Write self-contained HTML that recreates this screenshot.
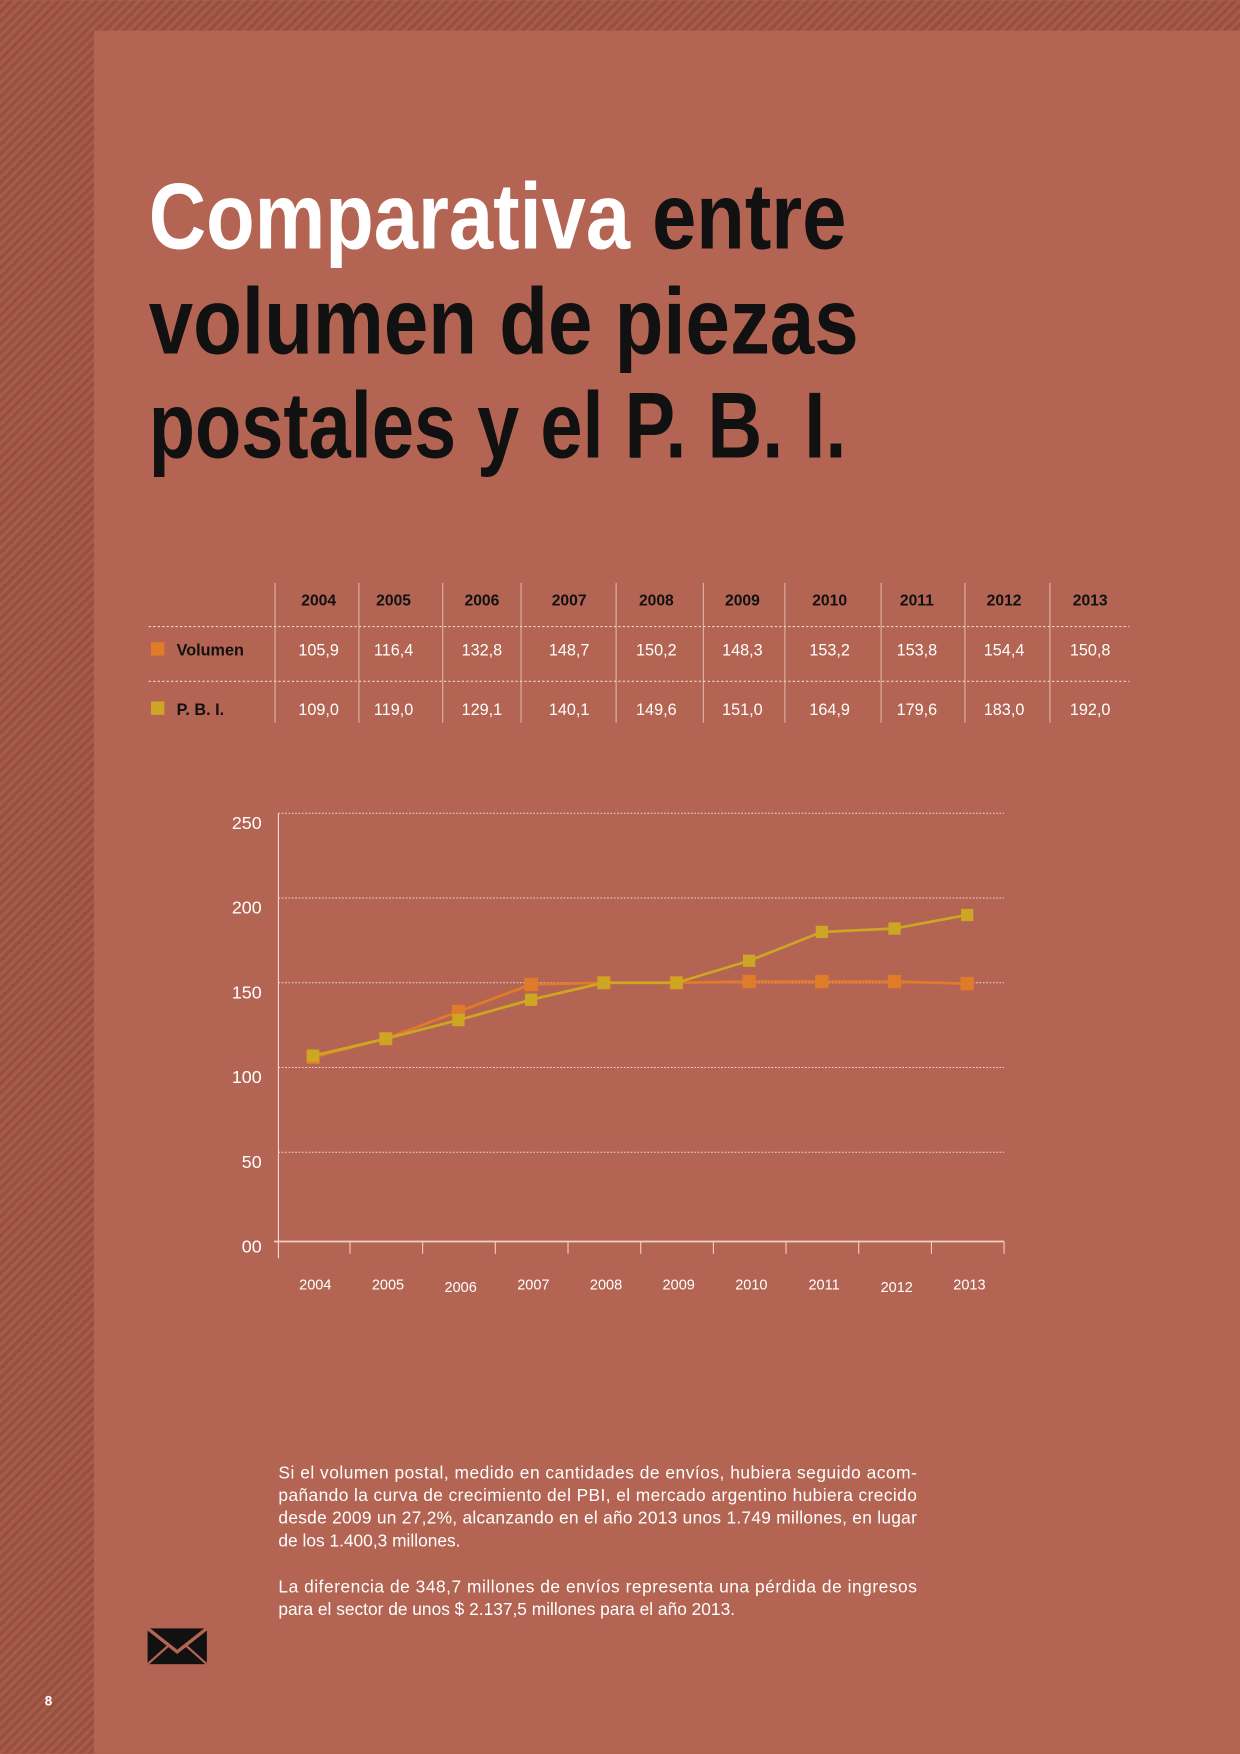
<!DOCTYPE html>
<html><head><meta charset="utf-8"><style>
html,body{margin:0;padding:0;background:#b36452;}
svg{display:block;}
text{font-family:"Liberation Sans",sans-serif;}
</style></head><body>
<svg id="page" width="1240" height="1754" viewBox="0 0 1109 1568" xmlns="http://www.w3.org/2000/svg">
<defs>
<pattern id="stripes" width="6" height="6" patternUnits="userSpaceOnUse" patternTransform="rotate(45)">
<rect width="6" height="6" fill="#a85a49"/><rect width="3" height="6" fill="#96503f"/>
</pattern>
</defs>
<rect width="1109" height="1568" fill="#b36452"/>
<rect x="0" y="0" width="84" height="1568" fill="url(#stripes)"/>
<rect x="84" y="0" width="1025" height="27" fill="url(#stripes)"/>

<g font-weight="bold" font-size="84">
<text x="133" y="222" textLength="624" lengthAdjust="spacingAndGlyphs" fill="#111"><tspan fill="#fff">Comparativa</tspan> entre</text>
<text x="133" y="316" textLength="635" lengthAdjust="spacingAndGlyphs" fill="#111">volumen de piezas</text>
<text x="133" y="409" textLength="624" lengthAdjust="spacingAndGlyphs" fill="#111">postales y el P. B. I.</text>
</g>

<g id="table"></g>
<g id="chart"></g>

<g fill="#fff" font-size="15.5">
<text x="249" y="1322" textLength="571" lengthAdjust="spacing">Si el volumen postal, medido en cantidades de envíos, hubiera seguido acom-</text>
<text x="249" y="1342" textLength="571" lengthAdjust="spacing">pañando la curva de crecimiento del PBI, el mercado argentino hubiera crecido</text>
<text x="249" y="1362" textLength="571" lengthAdjust="spacing">desde 2009 un 27,2%, alcanzando en el año 2013 unos 1.749 millones, en lugar</text>
<text x="249" y="1383">de los 1.400,3 millones.</text>
<text x="249" y="1424" textLength="571" lengthAdjust="spacing">La diferencia de 348,7 millones de envíos representa una pérdida de ingresos</text>
<text x="249" y="1444">para el sector de unos $ 2.137,5 millones para el año 2013.</text>
</g>

<g>
<rect x="132" y="1456" width="53" height="32" fill="#111"/>
<polyline points="132,1456 158.5,1477 185,1456" fill="none" stroke="#b36452" stroke-width="3"/>
<line x1="132" y1="1488" x2="150" y2="1472" stroke="#b36452" stroke-width="2"/>
<line x1="185" y1="1488" x2="167" y2="1472" stroke="#b36452" stroke-width="2"/>
</g>
<text x="40" y="1525" font-size="12" font-weight="bold" fill="#fff">8</text>
</svg>
<script>
const years = ["2004","2005","2006","2007","2008","2009","2010","2011","2012","2013"];
const volumen = [106,117,133,149,150,150,150.7,150.7,150.7,149.5];
const pbi = [107,117,128,140,150,150,163,180,182,190];
const yTicks = [0,50,100,150,200,250];
const yTickLabels = ["00","50","100","150","200","250"];
const volumenLabels = ["105,9","116,4","132,8","148,7","150,2","148,3","153,2","153,8","154,4","150,8"];
const pbiLabels = ["109,0","119,0","129,1","140,1","149,6","151,0","164,9","179,6","183,0","192,0"];

const NS = "http://www.w3.org/2000/svg";
function mk(tag, attrs, parent, txt){
  const e = document.createElementNS(NS, tag);
  for (const k in attrs) e.setAttribute(k, attrs[k]);
  if (txt !== undefined) e.textContent = txt;
  parent.appendChild(e);
  return e;
}
const ORANGE = "#e07b2a", YELLOW = "#cda623";

const table = document.getElementById('table');
const colCenters = [285,352,431,509,587,664,742,820,898,975];
const colLines = [246,321,396,466,551,629,702,788,863,939];
colLines.forEach(x => {
  const l = mk('line',{x1:x,y1:521,x2:x,y2:646,stroke:"#e8c8bd","stroke-width":0.8},table);
  
  
});
[560,609].forEach(y => {
  const l = mk('line',{x1:133,y1:y,x2:1010,y2:y,stroke:"#f0d8d0","stroke-width":1,"stroke-dasharray":"2 2"},table);
  
  
});
years.forEach((yr,i) => {
  const t = mk('text',{x:colCenters[i],y:541,"text-anchor":"middle","font-size":14,"font-weight":"bold",fill:"#111"},table,yr);
  
  
  const a = mk('text',{x:colCenters[i],y:586,"text-anchor":"middle","font-size":14.5,fill:"#fff"},table,volumenLabels[i]);
  
  
  const b = mk('text',{x:colCenters[i],y:639,"text-anchor":"middle","font-size":14.5,fill:"#fff"},table,pbiLabels[i]);
  
  
});
let s1 = mk('rect',{x:135,y:574,width:12,height:12,fill:ORANGE},table);


let l1 = mk('text',{x:158,y:586,"font-size":14.5,"font-weight":"bold",fill:"#111"},table,"Volumen");


let s2 = mk('rect',{x:135,y:627,width:12,height:12,fill:YELLOW},table);


let l2 = mk('text',{x:158,y:639,"font-size":14.5,"font-weight":"bold",fill:"#111"},table,"P. B. I.");



const chart = document.getElementById('chart');
const X0 = 249, X1 = 898, Y0 = 1106, Ytop = 727;
const yScale = v => Y0 - (v/250)*(Y0-Ytop);
const xScale = i => 280 + i*65;

yTicks.forEach((v,i) => {
  if (v > 0) {
    const g = mk('line',{x1:X0,y1:yScale(v),x2:X1,y2:yScale(v),stroke:"#f0d8d0","stroke-width":0.9,"stroke-dasharray":"1.5 1.5"},chart);
    
    
  }
  const t = mk('text',{x:234,y:yScale(v)+14,"text-anchor":"end","font-size":16,fill:"#fff"},chart,yTickLabels[i]);
  
  
});
let ax = mk('line',{x1:X0,y1:727,x2:X0,y2:1125,stroke:"#f5e0d8","stroke-width":1},chart);


let xa = mk('line',{x1:X0-4,y1:1110,x2:X1,y2:1110,stroke:"#f0d0c4","stroke-width":1.5},chart);


years.forEach((yr,i) => {
  const tk = mk('line',{x1:xScale(i)+33,y1:1110,x2:xScale(i)+33,y2:1121,stroke:"#f0d0c4","stroke-width":1},chart);
  
  
  const t = mk('text',{x:xScale(i)+2,y:(i===2||i===8)?1155:1153,"text-anchor":"middle","font-size":13,fill:"#fff"},chart,yr);
  
  
});
function series(vals, color, name, size){
  const pts = vals.map((v,i)=>xScale(i)+","+yScale(v)).join(" ");
  const pl = mk('polyline',{points:pts,fill:"none",stroke:color,"stroke-width":2.4},chart);
  
  
  vals.forEach((v,i)=>{
    const r = mk('rect',{x:xScale(i)-size/2,y:yScale(v)-size/2,width:size,height:size,fill:color},chart);
    
    
  });
}
series(volumen, ORANGE, 'volumen', 12);
series(pbi, YELLOW, 'pbi', 11);
</script>
</body></html>
